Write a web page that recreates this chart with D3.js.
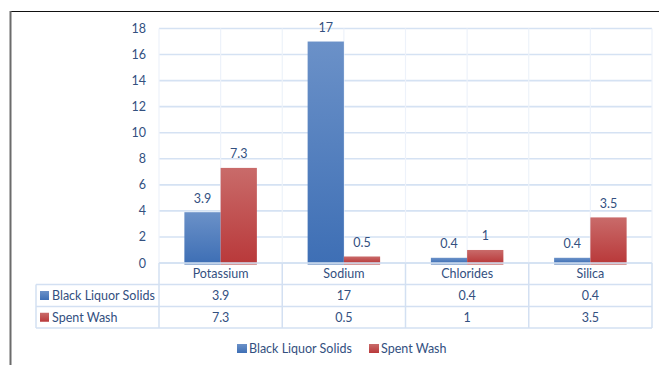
<!DOCTYPE html>
<html>
<head>
<meta charset="utf-8">
<script src="https://cdn.jsdelivr.net/npm/d3@7"></script>
<style>
  html, body { margin: 0; padding: 0; background: #fff; }
  svg { display: block; font-family: Lato, "Open Sans", sans-serif; }
</style>
</head>
<body>
<svg id="chart" width="659" height="365"></svg>
<script>
// Element content per source, in percent
const categories = ["Potassium", "Sodium", "Chlorides", "Silica"];
const seriesNames = ["Black Liquor Solids", "Spent Wash"];
const blackLiquorSolids = [3.9, 17, 0.4, 0.4];
const spentWash = [7.3, 0.5, 1, 3.5];
const yTicks = [0, 2, 4, 6, 8, 10, 12, 14, 16, 18];

const seriesValues = [blackLiquorSolids, spentWash];
const colors = [
  { top: "#6b91c8", bottom: "#3e6fb5", edge: "#3d6cb0" },
  { top: "#c96b6a", bottom: "#b9393a", edge: "#b03434" }
];
const textColor = "#33507f";

const svg = d3.select("#chart");
const W = 659, H = 365;
const plot = { left: 159, right: 652, top: 28.5, bottom: 263 };

// Outer frame: top rule and left rule
svg.append("line").attr("x1", 10).attr("x2", W).attr("y1", 11.5).attr("y2", 11.5)
  .attr("stroke", "#111").attr("stroke-width", 1);
svg.append("line").attr("x1", 10.5).attr("x2", 10.5).attr("y1", 11).attr("y2", H)
  .attr("stroke", "#6b6b6b").attr("stroke-width", 2);

const x = d3.scaleBand().domain(categories).range([plot.left, plot.right]).paddingInner(0).paddingOuter(0);
const y = d3.scaleLinear().domain([0, 18]).range([plot.bottom, plot.top]);
const xs = d3.scaleBand().domain(d3.range(seriesValues.length)).range([0, x.bandwidth()]).paddingInner(0).paddingOuter(0.7);

// Gradients for bars
const defs = svg.append("defs");
colors.forEach((c, i) => {
  const g = defs.append("linearGradient").attr("id", "grad" + i)
    .attr("x1", 0).attr("y1", 0).attr("x2", 0).attr("y2", 1);
  g.append("stop").attr("offset", "0%").attr("stop-color", c.top);
  g.append("stop").attr("offset", "100%").attr("stop-color", c.bottom);
});

// Horizontal gridlines
svg.append("g").selectAll("line").data(yTicks).join("line")
  .attr("x1", plot.left).attr("x2", plot.right)
  .attr("y1", d => y(d)).attr("y2", d => y(d))
  .attr("stroke", "#d5e2f3").attr("stroke-width", 1.6);

// Vertical gridlines at category boundaries and centres
const vLines = [];
categories.forEach(c => { vLines.push(x(c)); vLines.push(x(c) + x.bandwidth() / 2); });
vLines.push(plot.right);
svg.append("g").selectAll("line").data(vLines).join("line")
  .attr("x1", d => d).attr("x2", d => d)
  .attr("y1", plot.top).attr("y2", plot.bottom)
  .attr("stroke", "#edf2fa").attr("stroke-width", 1.2);

// Y axis labels
const yAxis = d3.axisLeft(y).tickValues(yTicks).tickSize(0).tickPadding(13);
const ya = svg.append("g").attr("transform", `translate(${plot.left},0)`).call(yAxis);
ya.select(".domain").remove();
ya.selectAll("text").attr("fill", textColor).attr("font-size", 12.5).attr("font-family", "Lato, sans-serif");

// Bars
seriesValues.forEach((vals, si) => {
  const g = svg.append("g");
  g.selectAll("rect").data(vals).join("rect")
    .attr("x", (d, i) => x(categories[i]) + xs(si))
    .attr("width", xs.bandwidth())
    .attr("y", d => y(d))
    .attr("height", d => y(0) - y(d))
    .attr("fill", `url(#grad${si})`);
  g.selectAll("line").data(vals).join("line")
    .attr("x1", (d, i) => x(categories[i]) + xs(si))
    .attr("x2", (d, i) => x(categories[i]) + xs(si) + xs.bandwidth())
    .attr("y1", y(0) + 1).attr("y2", y(0) + 1)
    .attr("stroke", colors[si].edge).attr("stroke-width", 1.2);
  g.selectAll("text").data(vals).join("text")
    .attr("x", (d, i) => x(categories[i]) + xs(si) + xs.bandwidth() / 2)
    .attr("y", d => y(d) - 9.5)
    .attr("text-anchor", "middle")
    .attr("fill", textColor).attr("font-size", 12.5)
    .text(d => d);
});

// Data table beneath the plot
const tableLeft = 36;
const rows = [263, 284.5, 306.5, 328];
const tbl = svg.append("g").attr("stroke", "#d3e0f2").attr("stroke-width", 1.5).attr("fill", "none");
// horizontal rules
tbl.append("line").attr("x1", plot.left).attr("x2", plot.right).attr("y1", rows[0]).attr("y2", rows[0]);
[1, 2, 3].forEach(r => tbl.append("line").attr("x1", tableLeft).attr("x2", plot.right).attr("y1", rows[r]).attr("y2", rows[r]));
// vertical rules
tbl.append("line").attr("x1", tableLeft).attr("x2", tableLeft).attr("y1", rows[1]).attr("y2", rows[3]);
[...categories.map(c => x(c)), plot.right].forEach(vx =>
  tbl.append("line").attr("x1", vx).attr("x2", vx).attr("y1", rows[0]).attr("y2", rows[3]));

// header row: category names
svg.append("g").selectAll("text").data(categories).join("text")
  .attr("x", d => x(d) + x.bandwidth() / 2)
  .attr("y", (rows[0] + rows[1]) / 2 + 4.5)
  .attr("text-anchor", "middle").attr("fill", textColor).attr("font-size", 12.5)
  .text(d => d);

// value rows with legend keys
seriesValues.forEach((vals, si) => {
  const cy = (rows[si + 1] + rows[si + 2]) / 2;
  svg.append("rect").attr("x", 40).attr("y", cy - 4.5).attr("width", 9).attr("height", 9)
    .attr("fill", `url(#grad${si})`);
  svg.append("text").attr("x", 52).attr("y", cy + 4.5)
    .attr("fill", textColor).attr("font-size", 12.5).text(seriesNames[si]);
  svg.append("g").selectAll("text").data(vals).join("text")
    .attr("x", (d, i) => x(categories[i]) + x.bandwidth() / 2)
    .attr("y", cy + 4.5)
    .attr("text-anchor", "middle").attr("fill", textColor).attr("font-size", 12.5)
    .text(d => d);
});

// Legend
const legendItems = [{ x: 237, name: seriesNames[0], i: 0 }, { x: 369, name: seriesNames[1], i: 1 }];
const lg = svg.append("g");
legendItems.forEach(it => {
  lg.append("rect").attr("x", it.x).attr("y", 344).attr("width", 10).attr("height", 9)
    .attr("fill", `url(#grad${it.i})`);
  lg.append("text").attr("x", it.x + 12).attr("y", 353)
    .attr("fill", textColor).attr("font-size", 12.5).text(it.name);
});
</script>
</body>
</html>
